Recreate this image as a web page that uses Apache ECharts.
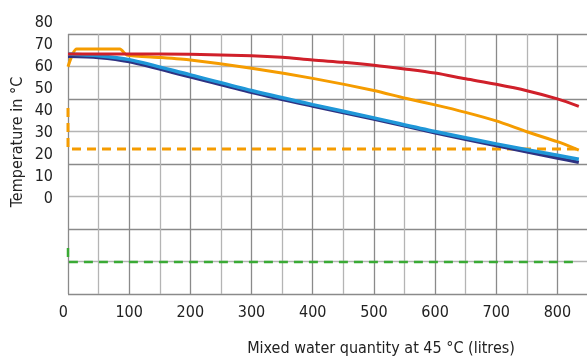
<!DOCTYPE html>
<html>
<head>
<meta charset="utf-8">
<script src="https://cdn.jsdelivr.net/npm/echarts@6/dist/echarts.min.js"></script>
<style>
  html, body { margin: 0; padding: 0; background: #fff; }
  #chart { width: 587px; height: 359px; }
</style>
</head>
<body>
<div id="chart"></div>
<script>
// litres, °C
let redLine = [[0,65.8],[100,65.8],[200,65.6],[300,65],[350,64.3],[400,63],[450,62],[500,60.7],[550,59],[600,57.1],[650,54.5],[700,52],[750,49.1],[800,45.4],[835,42]];
let orangeLine = [[0,60],[14,68],[85,68],[96,65.3],[150,64.2],[200,63],[300,59.3],[400,54.7],[500,49.2],[550,45.8],[600,42.7],[650,39.3],[700,35.4],[750,30.5],[800,26],[835,22.2]];
let blueLine = [[0,65.8],[50,65],[100,63.2],[200,56.3],[300,49.2],[400,42.8],[500,36.8],[600,30.6],[700,25],[800,19.8],[835,18]];
let navyLine = [[0,64.7],[50,64.2],[100,62.3],[200,55.4],[300,48.4],[400,42.2],[500,36.3],[600,30],[700,24.2],[800,18.6],[835,16.6]];
let orangeDash = [[0,41.3],[0,22.7],[835,22.7]];
let greenDash = [[0,-22.2],[0,-28.6],[835,-28.6]];

let xLabels = [0,100,200,300,400,500,600,700,800];
let yLabels = [0,10,20,30,40,50,60,70,80];

let font = '"Liberation Sans Narrow", "DejaVu Sans Condensed", sans-serif';

let chart = echarts.init(document.getElementById('chart'));

function lineSeries(data, color, width, dashed, smooth) {
    return {
        type: 'line',
        xAxisIndex: 1,
        yAxisIndex: 1,
        data: data,
        symbol: 'none',
        smooth: smooth,
        silent: true,
        lineStyle: { color: color, width: width, type: dashed ? [9, 6] : 'solid', cap: 'butt' }
    };
}

let option = {
    animation: false,
    grid: [
        { left: 68, top: 34, width: 520, height: 260, outerBoundsMode: 'none' },   // grid lines
        { left: 68, top: 22.6, width: 520, height: 264.6, outerBoundsMode: 'none' } // data scale
    ],
    xAxis: [
        {
            gridIndex: 0, type: 'value', min: 0, max: 850, interval: 50,
            axisLine: { show: false }, axisTick: { show: false },
            splitLine: { showMaxLine: false, lineStyle: { color: ['#8a8a8a', '#b4b4b4'], width: 1.3 } },
            axisLabel: {
                margin: 11, color: '#222', fontSize: 16, fontFamily: font,
                alignMinLabel: 'right',
                formatter: function (v) { return xLabels.indexOf(v) >= 0 ? String(v) : ''; }
            }
        },
        { gridIndex: 1, type: 'value', min: 0, max: 850, show: false }
    ],
    yAxis: [
        {
            gridIndex: 0, type: 'value', min: 0, max: 8, interval: 1,
            axisLine: { show: false }, axisTick: { show: false }, axisLabel: { show: false },
            splitLine: { lineStyle: { color: ['#8a8a8a', '#b4b4b4'], width: 1.3 } }
        },
        {
            gridIndex: 1, type: 'value', min: -40, max: 80, interval: 10,
            axisLine: { show: false }, axisTick: { show: false }, splitLine: { show: false },
            axisLabel: {
                margin: 15, color: '#222', fontSize: 16, fontFamily: font,
                formatter: function (v) { return yLabels.indexOf(v) >= 0 ? String(v) : ''; }
            }
        }
    ],
    graphic: [
        {
            type: 'text', x: 18, y: 142, rotation: Math.PI / 2,
            style: { text: 'Temperature in °C', fontSize: 16, fontFamily: font, fill: '#222', align: 'center', verticalAlign: 'middle' }
        },
        {
            type: 'text', x: 381, y: 349,
            style: { text: 'Mixed water quantity at 45 °C (litres)', fontSize: 16, fontFamily: font, fill: '#222', align: 'center', verticalAlign: 'middle' }
        }
    ],
    series: [
        lineSeries(greenDash, '#3aaa35', 2.5, true, false),
        lineSeries(orangeDash, '#f59c00', 3, true, false),
        lineSeries(orangeLine, '#f59c00', 3, false, 0.2),
        lineSeries(navyLine, '#2e3282', 3.5, false, 0.3),
        lineSeries(blueLine, '#1f97d8', 3.5, false, 0.3),
        lineSeries(redLine, '#d0202a', 3, false, 0.3)
    ]
};

chart.setOption(option);
</script>
</body>
</html>
